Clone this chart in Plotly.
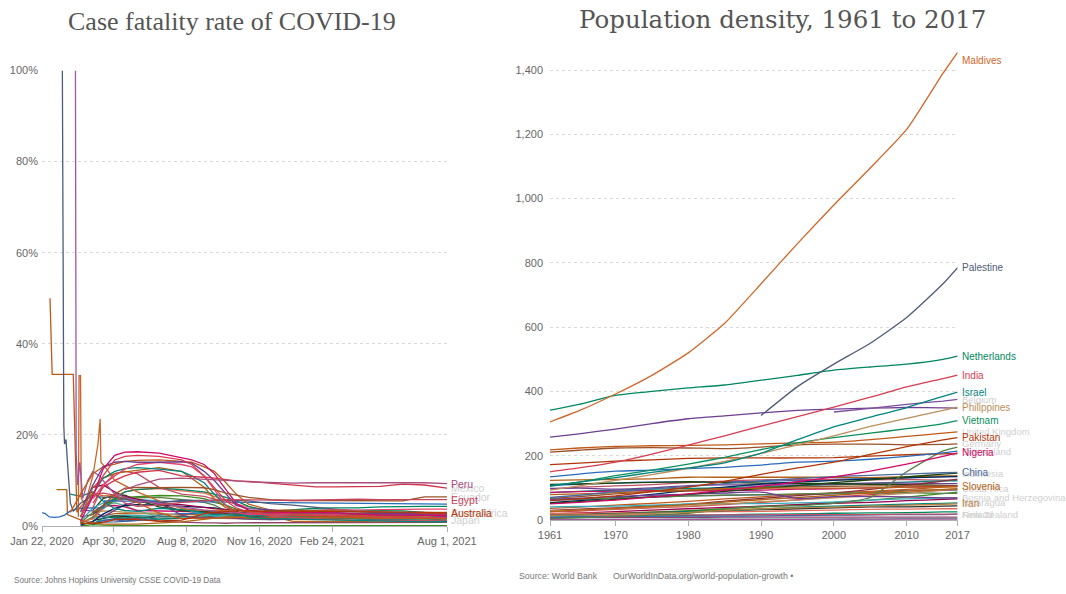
import plotly.graph_objects as go

SANS = "Liberation Sans, Arial, sans-serif"
SERIF = "Liberation Serif, Times New Roman, serif"
TITLE_SERIF = "DejaVu Serif, Georgia, serif"

# ---------------- Case fatality rate of COVID-19 (%) ----------------
CFR_DATES = ["2020-03-01", "2020-03-15", "2020-04-01", "2020-04-15", "2020-05-01", "2020-05-15",
             "2020-06-01", "2020-07-01", "2020-08-01", "2020-08-15", "2020-09-01", "2020-09-15",
             "2020-10-01", "2020-10-15", "2020-11-01", "2020-12-01", "2021-01-01", "2021-02-01",
             "2021-03-01", "2021-04-01", "2021-05-01", "2021-06-01", "2021-07-01", "2021-08-01"]

belgium_cfr = [None, 1.0, 6.5, 12.5, 15.5, 16.2, 16.3, 16.0, 15.0, 14.5, 13.5, 11.5, 8.0, 5.0, 3.5, 2.9, 3.0, 3.0, 2.9, 2.6, 2.4, 2.4, 2.4, 2.3]
france_cfr = [None, 2.0, 7.0, 11.0, 14.5, 15.3, 15.5, 15.3, 14.5, 13.5, 11.0, 8.5, 5.5, 4.0, 3.0, 2.4, 2.4, 2.3, 2.3, 2.1, 1.9, 1.9, 1.9, 1.9]
italy_cfr = [3.0, 7.0, 11.5, 13.0, 13.6, 14.2, 14.4, 14.5, 14.2, 14.0, 13.0, 12.0, 9.5, 7.0, 4.8, 3.5, 3.5, 3.4, 3.3, 3.1, 3.0, 3.0, 3.0, 3.0]
uk_cfr = [None, 3.0, 9.0, 13.0, 14.0, 14.2, 14.0, 14.0, 14.1, 13.8, 12.0, 10.0, 7.0, 4.5, 3.8, 3.6, 2.9, 2.9, 2.9, 2.9, 2.9, 2.8, 2.4, 2.0]
netherlands_cfr = [None, 2.0, 7.0, 10.5, 12.0, 12.6, 12.8, 12.5, 12.0, 11.0, 9.5, 7.0, 4.5, 3.0, 2.0, 1.6, 1.5, 1.4, 1.3, 1.1, 1.0, 1.0, 0.9, 0.9]
spain_cfr = [None, 2.0, 8.5, 10.5, 11.5, 11.9, 12.2, 12.8, 12.0, 10.5, 8.5, 6.0, 4.0, 3.5, 3.3, 2.8, 2.6, 2.3, 2.3, 2.2, 2.2, 2.1, 2.0, 1.8]
hungary_cfr = [None, None, 6.0, 9.0, 11.0, 12.5, 13.5, 14.0, 13.5, 13.0, 11.0, 8.0, 4.5, 3.0, 2.5, 2.5, 3.0, 3.4, 3.6, 3.5, 3.6, 3.7, 3.7, 3.7]
sweden_cfr = [None, None, 4.0, 9.0, 11.5, 12.0, 11.5, 8.5, 7.0, 6.8, 6.5, 5.9, 5.5, 4.8, 3.5, 2.1, 1.8, 1.6, 1.4, 1.2, 1.3, 1.2, 1.2, 1.3]
mexico_cfr = [None, None, 5.0, 8.5, 10.0, 11.0, 11.8, 12.2, 11.0, 10.9, 10.7, 10.5, 10.2, 9.9, 9.8, 9.4, 8.9, 8.6, 8.6, 8.6, 8.7, 9.2, 9.0, 8.3]
peru_cfr = [None, None, None, None, None, 8.0, 9.0, 10.3, 10.5, 10.4, 10.3, 10.2, 10.0, 9.9, 9.7, 9.5, 9.4, 9.5, 9.5, 9.6, 9.6, 9.6, 9.5, 9.3]
ecuador_cfr = [None, None, 3.0, 4.5, 7.0, 8.3, 8.5, 8.4, 8.5, 8.4, 8.4, 8.0, 7.2, 6.8, 6.3, 5.8, 5.6, 5.6, 5.6, 5.6, 5.5, 5.5, 6.4, 6.4]
egypt_cfr = [None, None, 7.0, 7.2, 6.8, 5.0, 4.3, 4.6, 5.2, 5.4, 5.6, 5.7, 5.8, 5.8, 5.8, 5.7, 5.6, 5.7, 5.9, 5.9, 5.8, 5.8, 5.8, 5.8]
australia_cfr = [None, 0.6, 0.5, 0.8, 1.4, 1.4, 1.4, 1.1, 1.3, 1.9, 2.7, 3.0, 3.2, 3.3, 3.3, 3.3, 3.2, 3.2, 3.2, 3.1, 3.1, 3.0, 3.0, 2.9]
greece_cfr = [None, 1.0, 4.0, 5.0, 5.8, 6.0, 5.8, 5.5, 4.0, 3.2, 2.6, 2.2, 2.0, 2.0, 2.2, 2.6, 3.3, 3.5, 3.6, 3.3, 3.0, 3.0, 2.9, 2.9]
germany_cfr = [None, 0.2, 1.0, 2.6, 3.9, 4.5, 4.7, 4.6, 4.4, 4.3, 4.2, 4.0, 3.6, 3.2, 2.4, 1.6, 1.8, 2.4, 2.8, 2.6, 2.4, 2.4, 2.4, 2.4]
canada_cfr = [None, 1.0, 1.5, 4.0, 6.5, 7.5, 8.0, 8.2, 7.7, 7.5, 7.2, 6.5, 5.5, 4.8, 4.2, 3.3, 2.7, 2.6, 2.5, 2.3, 1.9, 1.9, 1.9, 1.9]
usa_cfr = [None, 2.0, 2.5, 4.3, 5.9, 6.0, 5.8, 4.8, 3.4, 3.1, 3.0, 2.9, 2.7, 2.6, 2.4, 2.0, 1.7, 1.7, 1.8, 1.8, 1.8, 1.8, 1.8, 1.7]
brazil_cfr = [None, None, 3.5, 6.0, 6.8, 6.8, 5.7, 4.2, 3.4, 3.3, 3.1, 3.0, 3.0, 2.9, 2.9, 2.7, 2.5, 2.5, 2.4, 2.6, 2.8, 2.8, 2.8, 2.8]
ireland_cfr = [None, 0.5, 2.0, 3.8, 5.8, 6.3, 6.5, 6.7, 6.6, 6.4, 6.0, 5.2, 4.6, 3.7, 3.0, 2.7, 2.3, 1.9, 1.9, 1.9, 1.9, 1.9, 1.9, 1.8]
switzerland_cfr = [None, 0.7, 3.0, 4.0, 5.6, 6.0, 6.2, 6.3, 5.9, 5.6, 5.2, 4.6, 3.3, 2.1, 1.6, 1.6, 1.6, 1.8, 1.8, 1.7, 1.6, 1.6, 1.6, 1.5]
indonesia_cfr = [None, None, 8.5, 9.0, 7.5, 6.5, 5.9, 5.0, 4.7, 4.4, 4.1, 3.8, 3.6, 3.4, 3.3, 3.1, 3.0, 2.8, 2.7, 2.7, 2.8, 2.8, 2.7, 2.8]
india_cfr = [None, None, 2.8, 3.3, 3.2, 3.0, 2.8, 2.9, 2.2, 2.0, 1.8, 1.7, 1.6, 1.5, 1.5, 1.5, 1.5, 1.4, 1.4, 1.3, 1.1, 1.2, 1.3, 1.3]
southafrica_cfr = [None, None, 0.3, 1.8, 1.9, 1.8, 2.0, 1.5, 1.8, 2.0, 2.2, 2.5, 2.6, 2.6, 2.7, 2.7, 2.7, 3.0, 3.3, 3.4, 3.4, 3.3, 3.0, 2.9]
colombia_cfr = [None, None, 1.6, 4.4, 4.5, 4.2, 3.4, 3.3, 3.3, 3.2, 3.2, 3.1, 3.0, 3.0, 2.9, 2.8, 2.6, 2.6, 2.6, 2.6, 2.6, 2.6, 2.5, 2.5]
russia_cfr = [None, None, 0.8, 0.8, 0.9, 1.0, 1.2, 1.5, 1.7, 1.7, 1.7, 1.7, 1.7, 1.7, 1.7, 1.7, 1.8, 1.9, 2.0, 2.2, 2.3, 2.4, 2.5, 2.5]
turkey_cfr = [None, None, 2.1, 2.2, 2.7, 2.7, 2.8, 2.6, 2.6, 2.5, 2.4, 2.5, 2.6, 2.7, 2.8, 2.2, 1.0, 1.0, 1.0, 0.9, 0.9, 0.9, 0.9, 0.9]
japan_cfr = [None, 3.5, 3.3, 2.0, 3.5, 4.7, 5.3, 5.0, 2.4, 1.9, 1.9, 1.9, 1.8, 1.7, 1.5, 1.4, 1.4, 1.5, 1.7, 1.9, 1.7, 1.7, 1.6, 1.3]
korea_cfr = [None, 0.7, 1.7, 2.1, 2.3, 2.4, 2.3, 2.1, 2.1, 1.9, 1.7, 1.7, 1.7, 1.8, 1.7, 1.4, 1.5, 1.8, 1.8, 1.7, 1.5, 1.4, 1.3, 1.1]
israel_cfr = [None, None, 0.5, 1.2, 1.6, 1.7, 1.7, 1.0, 0.8, 0.7, 0.7, 0.7, 0.6, 0.7, 0.7, 0.7, 0.7, 0.7, 0.7, 0.7, 0.8, 0.8, 0.8, 0.8]
chile_cfr = [None, None, 0.3, 1.3, 1.4, 1.1, 1.3, 2.4, 2.7, 2.7, 2.8, 2.8, 2.8, 2.8, 2.8, 2.8, 2.7, 2.6, 2.5, 2.4, 2.2, 2.2, 2.1, 2.1]
argentina_cfr = [None, None, 2.7, 4.5, 5.1, 4.5, 3.4, 2.0, 1.9, 2.0, 2.1, 2.3, 2.6, 2.6, 2.7, 2.7, 2.7, 2.5, 2.5, 2.4, 2.2, 2.1, 2.1, 2.1]
pakistan_cfr = [None, None, 1.2, 1.7, 2.2, 2.1, 1.9, 2.0, 2.1, 2.1, 2.1, 2.1, 2.0, 2.0, 2.0, 2.0, 2.1, 2.2, 2.2, 2.2, 2.2, 2.2, 2.3, 2.2]
singapore_cfr = [None, 0.0, 0.3, 0.2, 0.1, 0.1, 0.1, 0.1, 0.1, 0.1, 0.1, 0.1, 0.1, 0.1, 0.1, 0.1, 0.1, 0.1, 0.1, 0.1, 0.1, 0.1, 0.1, 0.1]
iraq_cfr = [7.0, 6.5, 7.5, 5.5, 3.8, 3.4, 3.2, 3.9, 3.6, 3.4, 2.9, 2.5, 2.4, 2.3, 2.3, 2.2, 2.1, 2.0, 1.8, 1.5, 1.4, 1.3, 1.2, 1.1]
bulgaria_cfr = [None, None, 3.0, 4.5, 6.0, 7.5, 8.0, 8.3, 8.0, 7.8, 7.5, 7.0, 6.3, 5.5, 4.3, 3.2, 3.5, 3.9, 4.0, 4.0, 4.2, 4.3, 4.3, 4.3]

# Series that start before March 2020 carry their own dates
china_dates = ["2020-01-22", "2020-01-26", "2020-02-01", "2020-02-08", "2020-02-15", "2020-02-22",
               "2020-03-01", "2020-03-15", "2020-04-01", "2020-04-16", "2020-04-17", "2020-05-01",
               "2020-07-01", "2020-09-01", "2020-11-01", "2021-01-01", "2021-03-01", "2021-05-01", "2021-08-01"]
china_cfr = [2.9, 2.8, 2.0, 1.9, 2.0, 2.4, 3.3, 3.9, 4.0, 4.0, 5.5, 5.5, 5.4, 5.3, 5.2, 5.1, 4.9, 4.8, 4.8]

iran_dates = ["2020-02-19", "2020-02-20", "2020-02-21", "2020-02-22", "2020-02-24", "2020-02-26",
              "2020-02-28", "2020-03-01", "2020-03-05", "2020-03-15", "2020-04-01", "2020-04-15",
              "2020-05-01", "2020-06-01", "2020-07-01", "2020-08-01", "2020-09-01", "2020-10-01",
              "2020-11-01", "2020-12-01", "2021-01-01", "2021-02-01", "2021-03-01", "2021-04-01",
              "2021-05-01", "2021-06-01", "2021-07-01", "2021-08-01"]
iran_cfr = [100, 40, 22, 18, 19, 14, 9, 5, 3.3, 5.0, 6.7, 6.3, 6.3, 5.5, 5.1, 5.6, 5.6, 5.7, 5.5, 4.9, 4.6, 4.1, 3.8, 3.2, 2.9, 2.7, 2.5, 2.2]

philippines_dates = ["2020-02-02", "2020-02-05", "2020-03-05", "2020-03-07", "2020-03-10", "2020-03-15",
                     "2020-03-22", "2020-04-01", "2020-04-15", "2020-05-01", "2020-06-01", "2020-07-01",
                     "2020-08-01", "2020-09-01", "2020-10-01", "2020-11-01", "2020-12-01", "2021-01-01",
                     "2021-03-01", "2021-05-01", "2021-08-01"]
philippines_cfr = [50, 33.3, 33.3, 20, 3.0, 4.2, 5.5, 7.3, 6.6, 6.6, 5.2, 2.8, 1.6, 1.7, 1.9, 1.9, 1.9, 1.9, 2.0, 1.7, 1.7]

hongkong_dates = ["2020-02-11", "2020-02-25", "2020-02-26", "2020-03-05", "2020-03-20", "2020-04-15",
                  "2020-06-01", "2020-08-01", "2020-10-01", "2020-12-01", "2021-02-01", "2021-05-01", "2021-08-01"]
hongkong_cfr = [8.0, 8.0, 2.5, 2.0, 1.0, 0.4, 0.4, 0.9, 2.0, 1.8, 1.8, 1.8, 1.8]

guyana_dates = ["2020-03-08", "2020-03-09", "2020-03-11", "2020-03-14", "2020-03-18", "2020-03-25",
                "2020-04-01", "2020-04-10", "2020-04-20", "2020-05-01", "2020-06-01", "2020-07-01",
                "2020-08-01", "2020-09-01", "2020-10-01", "2020-11-01", "2020-12-01", "2021-02-01",
                "2021-04-01", "2021-06-01", "2021-08-01"]
guyana_cfr = [100, 16, 9, 14, 6, 10, 12, 11, 9, 7, 5.5, 5.0, 4.2, 3.5, 3.0, 2.8, 2.6, 2.4, 2.3, 2.4, 2.3]

algeria_dates = ["2020-03-12", "2020-03-13", "2020-03-15", "2020-03-16", "2020-03-20", "2020-03-25",
                 "2020-04-01", "2020-04-08", "2020-04-11", "2020-04-12", "2020-04-20", "2020-05-01",
                 "2020-06-01", "2020-07-01", "2020-08-01", "2020-09-01", "2020-10-01", "2020-11-01",
                 "2020-12-01", "2021-02-01", "2021-04-01", "2021-06-01", "2021-08-01"]
algeria_cfr = [2, 33, 33, 6, 5, 7, 11, 18, 23.5, 14, 12.5, 10, 7.5, 5.5, 3.8, 3.4, 3.4, 3.3, 2.9, 2.7, 2.7, 2.7, 2.6]

CFR_TICK_DATES = ["2020-01-22", "2020-04-30", "2020-08-08", "2020-11-16", "2021-02-24", "2021-08-01"]
CFR_TICK_TEXT = ["Jan 22, 2020", "Apr 30, 2020", "Aug 8, 2020", "Nov 16, 2020", "Feb 24, 2021", "Aug 1, 2021"]
CFR_Y_TICKS = [0, 20, 40, 60, 80, 100]

# ---------------- Population density, people per km² ----------------
YEARS = [1961, 1965, 1970, 1975, 1980, 1985, 1990, 1995, 2000, 2005, 2010, 2015, 2017]

maldives_density = [305, 340, 392, 450, 520, 612, 735, 860, 980, 1095, 1215, 1390, 1455]
palestine_density = [None, None, None, None, None, None, 325, 415, 485, 550, 630, 735, 785]
netherlands_density = [342, 360, 388, 400, 411, 420, 435, 450, 466, 476, 485, 500, 510]
india_density = [150, 162, 180, 205, 233, 262, 292, 322, 351, 382, 414, 440, 451]
israel_density = [105, 118, 132, 148, 162, 178, 208, 250, 290, 320, 350, 385, 398]
japan_density = [258, 268, 283, 300, 315, 324, 333, 341, 345, 348, 350, 349, 348]
belgium_density = [None, None, None, None, None, None, None, None, 336, 347, 360, 370, 375]
philippines_density = [93, 106, 123, 141, 161, 182, 207, 234, 262, 291, 316, 341, 351]
vietnam_density = [107, 118, 138, 155, 174, 195, 219, 240, 256, 270, 284, 300, 309]
uk_density = [218, 224, 229, 231, 232, 234, 237, 240, 242, 250, 260, 270, 274]
germany_density = [211, 217, 224, 225, 224, 222, 227, 234, 236, 236, 234, 235, 237]
italy_density = [172, 177, 183, 187, 192, 193, 193, 193, 194, 199, 203, 206, 206]
switzerland_density = [134, 143, 152, 155, 160, 164, 171, 180, 183, 189, 198, 209, 214]
pakistan_density = [60, 66, 75, 88, 102, 120, 142, 162, 180, 204, 228, 249, 256]
nigeria_density = [50, 55, 62, 71, 81, 93, 105, 119, 134, 152, 174, 198, 209]
qatar_density = [4, 7, 11, 15, 21, 34, 42, 45, 52, 70, 150, 215, 227]
china_density = [70, 77, 88, 97, 104, 113, 122, 129, 135, 139, 143, 147, 148]
indonesia_density = [52, 57, 64, 72, 80, 89, 98, 107, 116, 125, 134, 143, 146]
slovenia_density = [79, 81, 85, 89, 94, 98, 99, 99, 99, 100, 102, 103, 103]
iran_density = [14, 16, 18, 21, 24, 30, 35, 38, 40, 43, 46, 49, 50]
bosnia_density = [64, 68, 73, 77, 80, 84, 87, 67, 73, 73, 72, 69, 69]
costarica_density = [26, 31, 36, 42, 48, 56, 63, 70, 77, 84, 90, 95, 97]
nicaragua_density = [14, 16, 19, 22, 26, 30, 34, 40, 43, 46, 49, 52, 53]
newzealand_density = [9, 10, 11, 12, 12, 12, 13, 14, 15, 16, 17, 17, 18]
finland_density = [15, 15, 15, 16, 16, 16, 16, 17, 17, 17, 18, 18, 18]
denmark_density = [108, 111, 115, 118, 119, 119, 120, 123, 126, 129, 132, 135, 137]
poland_density = [97, 102, 106, 110, 116, 121, 125, 126, 126, 125, 126, 124, 124]
france_density = [85, 89, 93, 96, 98, 101, 104, 107, 110, 114, 118, 122, 122]
czechia_density = [123, 125, 126, 128, 133, 133, 133, 133, 133, 132, 135, 137, 137]
portugal_density = [98, 99, 96, 100, 107, 109, 109, 109, 112, 115, 115, 113, 113]
hungary_density = [111, 112, 115, 117, 119, 117, 115, 114, 113, 111, 110, 108, 107]
austria_density = [86, 88, 90, 91, 91, 91, 93, 96, 97, 100, 102, 105, 106]
spain_density = [61, 64, 67, 71, 75, 77, 78, 79, 81, 87, 93, 93, 93]
turkey_density = [36, 40, 46, 52, 58, 66, 72, 80, 84, 89, 95, 102, 105]
thailand_density = [54, 60, 69, 80, 92, 102, 112, 118, 123, 128, 131, 134, 135]
malaysia_density = [25, 28, 33, 38, 42, 48, 55, 63, 71, 79, 86, 92, 96]
kenya_density = [15, 17, 20, 25, 29, 35, 41, 47, 54, 62, 71, 82, 87]
ghana_density = [30, 34, 38, 44, 49, 59, 67, 76, 84, 95, 108, 121, 127]
ireland_density = [41, 42, 43, 46, 50, 51, 51, 53, 56, 62, 66, 68, 69]
cuba_density = [67, 73, 81, 88, 91, 95, 101, 103, 105, 106, 106, 106, 106]
greece_density = [65, 66, 68, 71, 75, 77, 79, 81, 83, 84, 85, 83, 83]
mexico_density = [19, 22, 26, 31, 35, 39, 43, 48, 52, 55, 60, 64, 66]
egypt_density = [28, 31, 35, 39, 43, 50, 57, 62, 69, 75, 83, 94, 98]
usa_density = [20, 21, 22, 24, 25, 26, 27, 29, 31, 33, 34, 35, 35]
brazil_density = [9, 10, 11, 12, 14, 16, 18, 19, 21, 22, 23, 25, 25]
colombia_density = [15, 17, 20, 23, 26, 29, 32, 35, 38, 41, 41, 43, 44]
russia_density = [7, 8, 8, 8, 8, 9, 9, 9, 9, 9, 9, 9, 9]
canada_density = [2, 2, 2, 2, 3, 3, 3, 3, 3, 3, 4, 4, 4]
australia_density = [1, 1, 2, 2, 2, 2, 2, 2, 3, 3, 3, 3, 3]

DENSITY_X_TICKS = [1961, 1970, 1980, 1990, 2000, 2010, 2017]
DENSITY_Y_TICKS = [0, 200, 400, 600, 800, 1000, 1200, 1400]

# ---------------- series tables: (name, x, y, colour) ----------------
cfr_background = [
    ("Singapore", CFR_DATES, singapore_cfr, "#3B8E1D"),
    ("Israel", CFR_DATES, israel_cfr, "#8C4569"),
    ("Russia", CFR_DATES, russia_cfr, "#4C6A9C"),
    ("Turkey", CFR_DATES, turkey_cfr, "#B16214"),
    ("South Korea", CFR_DATES, korea_cfr, "#38AABA"),
    ("Chile", CFR_DATES, chile_cfr, "#286BBB"),
    ("Pakistan", CFR_DATES, pakistan_cfr, "#2B2B2B"),
    ("India", CFR_DATES, india_cfr, "#BC8E5A"),
    ("South Africa", CFR_DATES, southafrica_cfr, "#00875E"),
    ("Argentina", CFR_DATES, argentina_cfr, "#58AC8C"),
    ("Colombia", CFR_DATES, colombia_cfr, "#CF0A66"),
    ("Japan", CFR_DATES, japan_cfr, "#6D3E91"),
    ("Germany", CFR_DATES, germany_cfr, "#00295B"),
    ("USA", CFR_DATES, usa_cfr, "#883039"),
    ("Brazil", CFR_DATES, brazil_cfr, "#18470F"),
    ("Greece", CFR_DATES, greece_cfr, "#38AABA"),
    ("Ireland", CFR_DATES, ireland_cfr, "#3B8E1D"),
    ("Switzerland", CFR_DATES, switzerland_cfr, "#578145"),
    ("Indonesia", CFR_DATES, indonesia_cfr, "#970046"),
    ("Iraq", CFR_DATES, iraq_cfr, "#00847E"),
    ("Canada", CFR_DATES, canada_cfr, "#E56E5A"),
    ("Bulgaria", CFR_DATES, bulgaria_cfr, "#00875E"),
    ("Hong Kong", hongkong_dates, hongkong_cfr, "#B16214"),
    ("China", china_dates, china_cfr, "#286BBB"),
    ("Algeria", algeria_dates, algeria_cfr, "#C8662A"),
    ("Philippines", philippines_dates, philippines_cfr, "#C05917"),
    ("Iran", iran_dates, iran_cfr, "#4C5C78"),
    ("Guyana", guyana_dates, guyana_cfr, "#A2559C"),
    ("Sweden", CFR_DATES, sweden_cfr, "#C15065"),
    ("Spain", CFR_DATES, spain_cfr, "#B16214"),
    ("Netherlands", CFR_DATES, netherlands_cfr, "#00847E"),
    ("Hungary", CFR_DATES, hungary_cfr, "#E0456A"),
    ("Italy", CFR_DATES, italy_cfr, "#C05917"),
    ("United Kingdom", CFR_DATES, uk_cfr, "#6D3E91"),
    ("France", CFR_DATES, france_cfr, "#D73C50"),
    ("Belgium", CFR_DATES, belgium_cfr, "#CF0A66"),
    ("Mexico", CFR_DATES, mexico_cfr, "#D2334A"),
    ("Ecuador", CFR_DATES, ecuador_cfr, "#9A5129"),
]
cfr_labelled = [
    ("Egypt", CFR_DATES, egypt_cfr, "#C8455D"),
    ("Australia", CFR_DATES, australia_cfr, "#B13507"),
    ("Peru", CFR_DATES, peru_cfr, "#A94C7E"),
]
cfr_grey_labels = [("Mexico", mexico_cfr), ("Ecuador", ecuador_cfr),
                   ("South Africa", southafrica_cfr), ("Japan", japan_cfr)]

BG_COLOURS = ["#286BBB", "#C15065", "#00847E", "#B16214", "#6D3E91", "#18470F", "#CF0A66",
              "#4C6A9C", "#C05917", "#00295B", "#D73C50", "#3B8E1D", "#883039", "#38AABA",
              "#9A5129", "#578145", "#970046", "#BC8E5A", "#E56E5A", "#00875E", "#2B2B2B",
              "#8C4569", "#58AC8C", "#A2559C"]
density_background_values = [
    ("Denmark", denmark_density), ("Poland", poland_density), ("France", france_density),
    ("Czechia", czechia_density), ("Portugal", portugal_density), ("Hungary", hungary_density),
    ("Austria", austria_density), ("Spain", spain_density), ("Turkey", turkey_density),
    ("Thailand", thailand_density), ("Malaysia", malaysia_density), ("Kenya", kenya_density),
    ("Ghana", ghana_density), ("Ireland", ireland_density), ("Cuba", cuba_density),
    ("Greece", greece_density), ("Mexico", mexico_density), ("Egypt", egypt_density),
    ("United States", usa_density), ("Brazil", brazil_density), ("Colombia", colombia_density),
    ("Russia", russia_density), ("Canada", canada_density), ("Australia", australia_density),
    ("New Zealand", newzealand_density), ("Finland", finland_density),
    ("Nicaragua", nicaragua_density), ("Costa Rica", costarica_density),
    ("Bosnia and Herzegovina", bosnia_density), ("Indonesia", indonesia_density),
]
density_main = [
    ("Qatar", qatar_density, "#578145"),
    ("Italy", italy_density, "#B13507"),
    ("Switzerland", switzerland_density, "#286BBB"),
    ("Germany", germany_density, "#9A5129"),
    ("United Kingdom", uk_density, "#C05917"),
    ("Japan", japan_density, "#6D3E91"),
    ("Belgium", belgium_density, "#7D4E9E"),
    ("Iran", iran_density, "#B8803F"),
    ("Slovenia", slovenia_density, "#B16214"),
    ("China", china_density, "#4C6A9C"),
    ("Nigeria", nigeria_density, "#CF0A66"),
    ("Pakistan", pakistan_density, "#B13507"),
    ("Vietnam", vietnam_density, "#0A8F5B"),
    ("Philippines", philippines_density, "#BC8E5A"),
    ("Israel", israel_density, "#00847E"),
    ("India", india_density, "#D73C50"),
    ("Netherlands", netherlands_density, "#00875E"),
    ("Palestine", palestine_density, "#4C5C78"),
    ("Maldives", maldives_density, "#D0672A"),
]
density_labels = ["Maldives", "Palestine", "Netherlands", "India", "Israel", "Philippines",
                  "Vietnam", "Pakistan", "Nigeria", "China", "Slovenia", "Iran"]
density_grey_labels = [("Belgium", belgium_density), ("United Kingdom", uk_density),
                       ("Germany", germany_density), ("Switzerland", switzerland_density),
                       ("Indonesia", indonesia_density), ("Costa Rica", costarica_density),
                       ("Bosnia and Herzegovina", bosnia_density), ("Nicaragua", nicaragua_density),
                       ("New Zealand", newzealand_density), ("Finland", finland_density)]
LABEL_SHIFT = {"Maldives": -8}

GREY_LABEL = "#cfcfcf"
TICK_FONT = dict(family=SANS, size=11, color="#666666")

fig = go.Figure()


def add_line(x, y, colour, xa, ya, name, shape="linear"):
    fig.add_trace(go.Scatter(x=x, y=y, mode="lines", name=name, xaxis=xa, yaxis=ya,
                             line=dict(color=colour, width=1.3, shape=shape,
                                       smoothing=0.5 if shape == "spline" else None),
                             hoverinfo="skip"))


def last_point(xs, ys):
    for xv, yv in zip(reversed(list(xs)), reversed(list(ys))):
        if yv is not None:
            return xv, yv


annotations = []


def add_label(text, xs, ys, colour, xref, yref, size):
    xv, yv = last_point(xs, ys)
    annotations.append(dict(x=xv, y=yv, xref=xref, yref=yref, text=text, showarrow=False,
                            xanchor="left", yanchor="middle", xshift=2,
                            yshift=LABEL_SHIFT.get(text, 0),
                            font=dict(family=SANS, size=size, color=colour)))


# left panel
for name, xs, ys, col in cfr_background + cfr_labelled:
    add_line(xs, ys, col, "x", "y", name)
for name, ys in cfr_grey_labels:
    add_label(name, CFR_DATES, ys, GREY_LABEL, "x", "y", 10.5)
for name, xs, ys, col in cfr_labelled:
    add_label(name, xs, ys, col, "x", "y", 10.5)

# right panel
for i, (name, ys) in enumerate(density_background_values):
    add_line(YEARS, ys, BG_COLOURS[i % len(BG_COLOURS)], "x2", "y2", name, "spline")
for name, ys, col in density_main:
    add_line(YEARS, ys, col, "x2", "y2", name, "spline")
for name, ys in density_grey_labels:
    add_label(name, YEARS, ys, GREY_LABEL, "x2", "y2", 9.5)
for name, ys, col in density_main:
    if name in density_labels:
        add_label(name, YEARS, ys, col, "x2", "y2", 10)

# titles and sources
annotations += [
    dict(text="Case fatality rate of COVID-19", x=66 / 1066, y=1 - 22 / 594, xref="paper",
         yref="paper", showarrow=False, xanchor="left", yanchor="middle",
         font=dict(family=SERIF, size=26, color="#555555")),
    dict(text="Population density, 1961 to 2017", x=577 / 1066, y=1 - 19 / 594, xref="paper",
         yref="paper", showarrow=False, xanchor="left", yanchor="middle",
         font=dict(family=TITLE_SERIF, size=24.5, color="#555555")),
    dict(text="Source: Johns Hopkins University CSSE COVID-19 Data", x=12 / 1066, y=1 - 580 / 594,
         xref="paper", yref="paper", showarrow=False, xanchor="left", yanchor="middle",
         font=dict(family=SANS, size=8.2, color="#777777")),
    dict(text="Source: World Bank", x=517 / 1066, y=1 - 576 / 594,
         xref="paper", yref="paper", showarrow=False, xanchor="left", yanchor="middle",
         font=dict(family=SANS, size=8.8, color="#777777")),
    dict(text="OurWorldInData.org/world-population-growth •", x=611 / 1066, y=1 - 576 / 594,
         xref="paper", yref="paper", showarrow=False, xanchor="left", yanchor="middle",
         font=dict(family=SANS, size=8.8, color="#777777")),
]

grid = dict(showgrid=True, gridcolor="#d9d9d9", griddash="dot", gridwidth=1, zeroline=False)

# right panel: 0 sits at y=520 px and 1,400 at y=70 px; the range runs past 1,400 so the
# steepest line is not clipped
DENSITY_TOP = 1460

fig.update_layout(
    width=1066, height=594, margin=dict(l=0, r=0, t=0, b=0, autoexpand=False),
    paper_bgcolor="white", plot_bgcolor="white", showlegend=False, hovermode=False,
    annotations=annotations,
    xaxis=dict(domain=[42 / 1066, 447 / 1066], type="date", automargin=False,
               range=["2020-01-22", "2021-08-01"], tickvals=CFR_TICK_DATES, ticktext=CFR_TICK_TEXT,
               tickangle=0, showgrid=False, zeroline=False, showline=True, linecolor="#b0b0b0",
               ticks="outside", ticklen=5, tickcolor="#b0b0b0", tickfont=TICK_FONT),
    yaxis=dict(domain=[1 - 526 / 594, 1 - 70.5 / 594], range=[0, 100], tickvals=CFR_Y_TICKS,
               ticktext=[f"{v}%" for v in CFR_Y_TICKS], ticks="", tickfont=TICK_FONT,
               automargin=False, ticklabelstandoff=3, **grid),
    xaxis2=dict(domain=[550 / 1066, 957.6 / 1066], range=[1961, 2017], automargin=False,
                tickvals=DENSITY_X_TICKS, tickangle=0, showgrid=False, zeroline=False,
                showline=True, linecolor="#b0b0b0", ticks="outside", ticklen=5,
                tickcolor="#b0b0b0", tickfont=TICK_FONT, anchor="y2"),
    yaxis2=dict(domain=[1 - 520 / 594, 1 - (520 - DENSITY_TOP * 450 / 1400) / 594],
                range=[0, DENSITY_TOP], tickvals=DENSITY_Y_TICKS, automargin=False,
                tickformat=",", ticks="", tickfont=TICK_FONT, anchor="x2",
                ticklabelstandoff=6, **grid),
)

fig.write_html("out.html")
